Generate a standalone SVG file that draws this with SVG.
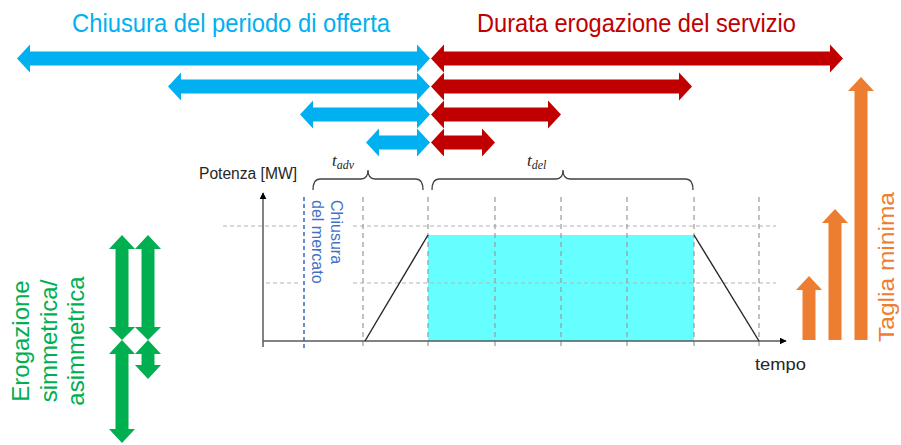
<svg xmlns="http://www.w3.org/2000/svg" width="901" height="445" viewBox="0 0 901 445">
<defs>
<style>
.t{font-family:"Liberation Sans",Arial,sans-serif}
.blue{fill:#00B0F0}
.red{fill:#C00000}
.green{fill:#00B050}
.orange{fill:#ED7D31}
.vd{stroke:#9A9A9A;stroke-width:1.2;stroke-dasharray:5,4;fill:none}
.hd{stroke:#B4B4B4;stroke-width:1;stroke-dasharray:4,3;fill:none}
.ax{stroke:#595959;stroke-width:1.5;fill:none}
.br{stroke:#404040;stroke-width:1.3;fill:none}
.ramp{stroke:#262626;stroke-width:1.4;fill:none}
.m{font-family:"Liberation Serif","Times New Roman",serif;font-style:italic;fill:#262626}
</style>
<marker id="ah" viewBox="0 0 10 10" refX="9" refY="5" markerWidth="7" markerHeight="7" orient="auto" markerUnits="userSpaceOnUse">
<path d="M0,0 L10,5 L0,10 z" fill="#000"/>
</marker>
</defs>
<rect width="901" height="445" fill="#fff"/>

<g id="titles">
<text class="t" x="72" y="32" font-size="25" fill="#00B0F0" textLength="318" lengthAdjust="spacingAndGlyphs">Chiusura del periodo di offerta</text>
<text class="t" x="477" y="32" font-size="25" fill="#C00000" textLength="319" lengthAdjust="spacingAndGlyphs">Durata erogazione del servizio</text>
</g>

<g id="blue-arrows" class="blue">
<polygon points="17,58.5 30,44.5 30,51.5 417,51.5 417,44.5 430,58.5 417,72.5 417,65.5 30,65.5 30,72.5"/>
<polygon points="168,86.5 181,72.5 181,79.5 417,79.5 417,72.5 430,86.5 417,100.5 417,93.5 181,93.5 181,100.5"/>
<polygon points="300,114.5 313,100.5 313,107.5 417,107.5 417,100.5 430,114.5 417,128.5 417,121.5 313,121.5 313,128.5"/>
<polygon points="366,142.5 379,128.5 379,135.5 417,135.5 417,128.5 430,142.5 417,156.5 417,149.5 379,149.5 379,156.5"/>
</g>

<g id="red-arrows" class="red">
<polygon points="431,58.5 444,44.5 444,51.5 830,51.5 830,44.5 843,58.5 830,72.5 830,65.5 444,65.5 444,72.5"/>
<polygon points="431,86.5 444,72.5 444,79.5 679,79.5 679,72.5 692,86.5 679,100.5 679,93.5 444,93.5 444,100.5"/>
<polygon points="431,114.5 444,100.5 444,107.5 548,107.5 548,100.5 561,114.5 548,128.5 548,121.5 444,121.5 444,128.5"/>
<polygon points="431,142.5 444,128.5 444,135.5 482,135.5 482,128.5 495,142.5 482,156.5 482,149.5 444,149.5 444,156.5"/>
</g>

<g id="chart">
<rect x="428" y="235" width="266" height="106" fill="#66FFFF"/>
<g id="grid-h">
<line class="hd" x1="223" y1="226" x2="300" y2="226"/>
<line class="hd" x1="353" y1="226" x2="776" y2="226"/>
<line class="hd" x1="266" y1="283" x2="300" y2="283"/>
<line class="hd" x1="353" y1="283" x2="776" y2="283"/>
</g>
<g id="grid-v">
<line class="vd" x1="363" y1="197" x2="363" y2="349"/>
<line class="vd" x1="428" y1="197" x2="428" y2="349"/>
<line class="vd" x1="495" y1="197" x2="495" y2="349"/>
<line class="vd" x1="561" y1="197" x2="561" y2="349"/>
<line class="vd" x1="627" y1="197" x2="627" y2="349"/>
<line class="vd" x1="694" y1="197" x2="694" y2="349"/>
<line class="vd" x1="759" y1="197" x2="759" y2="349"/>
</g>
<line x1="304" y1="197" x2="304" y2="348" stroke="#4472C4" stroke-width="1.6" stroke-dasharray="4,3"/>
<line class="ax" x1="263" y1="347" x2="263" y2="193" marker-end="url(#ah)"/>
<line class="ax" x1="263" y1="341" x2="786" y2="341" marker-end="url(#ah)"/>
<line class="ramp" x1="365" y1="341" x2="428" y2="235"/>
<line class="ramp" x1="694" y1="235" x2="759" y2="341"/>
<path class="br" d="M313,190 Q313,179 320,179 L361,179 Q368,179 368,170 Q368,179 375,179 L416,179 Q423,179 423,190"/>
<path class="br" d="M432,190 Q432,179 439,179 L556,179 Q563,179 563,170 Q563,179 570,179 L686,179 Q693,179 693,190"/>
<text class="t" x="199" y="179" font-size="16" fill="#262626" textLength="98" lengthAdjust="spacingAndGlyphs">Potenza [MW]</text>
<text class="m" x="332" y="166" font-size="17">t<tspan font-size="12" dy="3">adv</tspan></text>
<text class="m" x="527" y="166" font-size="17">t<tspan font-size="12" dy="3">del</tspan></text>
<text class="t" x="755" y="370" font-size="17" fill="#262626" textLength="51" lengthAdjust="spacingAndGlyphs">tempo</text>
<g id="market-close" class="t" font-size="16" fill="#4472C4">
<text transform="translate(331,200) rotate(90)">Chiusura</text>
<text transform="translate(312,200) rotate(90)">del mercato</text>
</g>
</g>

<g id="green-arrows" class="green">
<polygon points="122,235 135,249 128.5,249 128.5,327 135,327 122,340 109,327 115.5,327 115.5,249 109,249"/>
<polygon points="148,235 161,249 154.5,249 154.5,327 161,327 148,340 135,327 141.5,327 141.5,249 135,249"/>
<polygon points="122,340 135,354 128.5,354 128.5,429 135,429 122,443 109,429 115.5,429 115.5,354 109,354"/>
<polygon points="148,340 161,354 154.5,354 154.5,365 161,365 148,379 135,365 141.5,365 141.5,354 135,354"/>
</g>
<g id="green-label" class="t" font-size="24" fill="#00B050" text-anchor="middle">
<text transform="translate(29,341) rotate(-90)">Erogazione</text>
<text transform="translate(57,341) rotate(-90)">simmetrica/</text>
<text transform="translate(84,341) rotate(-90)">asimmetrica</text>
</g>

<g id="orange-arrows" class="orange">
<polygon points="809,276 822,290 815.5,290 815.5,340 802.5,340 802.5,290 796,290"/>
<polygon points="835,209 848,223 841.5,223 841.5,340 828.5,340 828.5,223 822,223"/>
<polygon points="861,77 874,91 867.5,91 867.5,340 854.5,340 854.5,91 848,91"/>
</g>
<g id="orange-label">
<text class="t" transform="translate(894,267) rotate(-90)" font-size="22" fill="#ED7D31" text-anchor="middle" textLength="150" lengthAdjust="spacingAndGlyphs">Taglia minima</text>
</g>
</svg>
